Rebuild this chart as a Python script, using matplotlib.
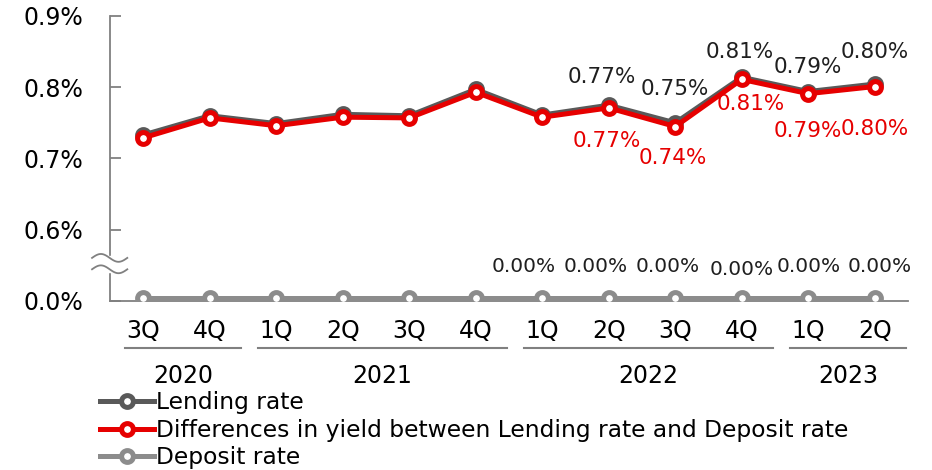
import matplotlib
matplotlib.use("Agg")
import numpy as np
import matplotlib.pyplot as plt
from matplotlib.lines import Line2D

quarters = ["3Q", "4Q", "1Q", "2Q", "3Q", "4Q", "1Q", "2Q", "3Q", "4Q", "1Q", "2Q"]
years = ["2020", "2021", "2022", "2023"]
year_spans = [(0, 1), (2, 5), (6, 9), (10, 11)]

# rates in %
lending = [0.733, 0.760, 0.749, 0.762, 0.760, 0.797, 0.761, 0.7748, 0.750, 0.814, 0.794, 0.8045]
spread = [0.729, 0.757, 0.746, 0.758, 0.757, 0.793, 0.758, 0.771, 0.7449, 0.811, 0.791, 0.801]
deposit = [0.004, 0.004, 0.004, 0.004, 0.004, 0.004, 0.004, 0.004, 0.004, 0.004, 0.004, 0.004]

# data labels: first index shown and offsets in pixels (dx, dy)
lend_from, dep_from = 7, 6
lend_off = [(-7, 28), (0, 34), (-2, 25), (0, 25), (0, 32)]
spread_off = [(-2, -33), (-2, -31), (9, -25), (0, -37), (0, -42)]
dep_off = [(-19, 32), (-13, 32), (-8, 32), (0, 29), (0, 32), (5, 32)]

c_lend = "#595959"
c_spread = "#e60000"
c_dep = "#8c8c8c"
c_axis = "#808080"

# lower part of the axis is broken: 0.0% sits where 0.5% would be
BREAK_BASE = 0.5

fig = plt.figure(figsize=(9.32, 4.70), dpi=100)
ax = fig.add_axes([110 / 932, 1 - 301 / 470, (908 - 110) / 932, (301 - 16) / 470])

x = np.arange(len(quarters))
dep_plot = [BREAK_BASE + v for v in deposit]

mk = dict(marker="o", markersize=8.5, markerfacecolor="white", markeredgewidth=3.6)
ax.plot(x, lending, color=c_lend, lw=3.6, markeredgecolor=c_lend, zorder=3, **mk)
ax.plot(x, spread, color=c_spread, lw=3.6, markeredgecolor=c_spread, zorder=4, **mk)
ax.plot(x, dep_plot, color=c_dep, lw=3.6, markeredgecolor=c_dep, zorder=3, **mk)

ax.set_xlim(-0.5, 11.5)
ax.set_ylim(0.5, 0.9)
ax.set_yticks([0.5, 0.6, 0.7, 0.8, 0.9])
ax.set_yticklabels(["0.0%", "0.6%", "0.7%", "0.8%", "0.9%"], fontsize=17)
ax.tick_params(axis="y", direction="in", length=8, width=1.3, color=c_axis, pad=19)
ax.set_xticks([])
for s in ["top", "right"]:
    ax.spines[s].set_visible(False)
for s in ["left", "bottom"]:
    ax.spines[s].set_color(c_axis)
    ax.spines[s].set_linewidth(1.3)

# axis break (two waves over a white gap)
ax.fill_between([-0.66, -0.34], 0.540, 0.563, color="white", clip_on=False, zorder=5)
t = np.linspace(0, 1, 60)
for yc in (0.5605, 0.5445):
    ax.plot(-0.77 + 0.53 * t, yc + 0.0055 * np.sin(2 * np.pi * t), color=c_axis, lw=1.3,
            clip_on=False, zorder=6)

# data labels
px = 0.72
for k, i in enumerate(range(lend_from, len(x))):
    dx, dy = lend_off[k]
    ax.annotate(f"{lending[i]:.2f}%", (i, lending[i]), xytext=(dx * px, dy * px),
                textcoords="offset points", ha="center", va="center", fontsize=15.5,
                color="#1f1f1f", zorder=7)
    dx, dy = spread_off[k]
    ax.annotate(f"{spread[i]:.2f}%", (i, spread[i]), xytext=(dx * px, dy * px),
                textcoords="offset points", ha="center", va="center", fontsize=15.5,
                color=c_spread, zorder=7)
for k, i in enumerate(range(dep_from, len(x))):
    dx, dy = dep_off[k]
    ax.annotate(f"{deposit[i]:.2f}%", (i, dep_plot[i]), xytext=(dx * px, dy * px),
                textcoords="offset points", ha="center", va="center", fontsize=14.5,
                color="#1f1f1f", zorder=7)

# category axis: quarters, year underlines and years
xt = ax.get_xaxis_transform()
for i, q in enumerate(quarters):
    ax.text(i, -30 / 285, q, transform=xt, ha="center", va="center", fontsize=17)
for name, (a, b) in zip(years, year_spans):
    x0, x1 = a - 0.27, b + 0.47
    ax.plot([x0, x1], [-47 / 285, -47 / 285], transform=xt, color=c_axis, lw=1.5, clip_on=False)
    ax.text((x0 + x1) / 2, -75 / 285, name, transform=xt, ha="center", va="center", fontsize=17)

handles = [
    Line2D([], [], color=c_lend, lw=3.6, markeredgecolor=c_lend, **mk),
    Line2D([], [], color=c_spread, lw=3.6, markeredgecolor=c_spread, **mk),
    Line2D([], [], color=c_dep, lw=3.6, markeredgecolor=c_dep, **mk),
]
labels = ["Lending rate", "Differences in yield between Lending rate and Deposit rate", "Deposit rate"]
fig.legend(handles, labels, loc="upper left", bbox_to_anchor=(100 / 932, 1 - 391 / 470),
           frameon=False, fontsize=16.8, handlelength=2.3, handletextpad=0.1,
           labelspacing=0.2, borderpad=0, borderaxespad=0)

fig.savefig("out.png", dpi=100)
